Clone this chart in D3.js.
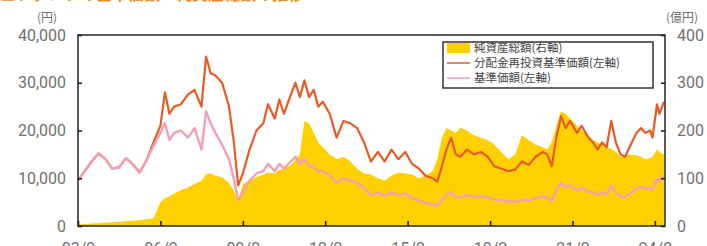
<!DOCTYPE html>
<html><head><meta charset="utf-8">
<script src="https://cdn.jsdelivr.net/npm/d3@7"></script>
<style>body{margin:0;background:#fff}svg{display:block}</style>
</head><body>
<svg id="c" width="707" height="246"></svg>
<script>
const dates = ["2003-02","2003-05","2003-08","2003-11","2004-02","2004-05","2004-08","2004-11","2005-02","2005-05","2005-08","2005-11",
"2006-02","2006-04","2006-06","2006-08","2006-11","2007-02","2007-05","2007-08","2007-10","2007-12","2008-02","2008-05","2008-08","2008-10","2008-12",
"2009-02","2009-05","2009-08","2009-11","2010-01","2010-04","2010-06","2010-08","2010-11","2011-01","2011-03","2011-05","2011-07","2011-09","2011-11",
"2012-01","2012-04","2012-07","2012-10","2013-01","2013-04","2013-07","2013-10","2014-01","2014-04","2014-07","2014-10","2015-01","2015-04","2015-07","2015-10",
"2016-01","2016-03","2016-05","2016-07","2016-09","2016-11","2017-01","2017-04","2017-07","2017-10","2018-01","2018-04","2018-07","2018-10",
"2019-01","2019-04","2019-07","2019-10","2020-01","2020-03","2020-05","2020-07","2020-09","2020-11","2021-01","2021-04","2021-06","2021-09","2021-11",
"2022-01","2022-03","2022-05","2022-07","2022-09","2022-11","2023-01","2023-03","2023-06","2023-08","2023-10","2023-12","2024-01","2024-03","2024-04","2024-06"];
// 分配金再投資基準価額 (円, 左軸)
const reinvestNav = [9500,11500,13500,15200,14000,12000,12300,14200,12900,11200,13800,17500,
21000,28000,23500,25000,25500,27500,28500,25000,35500,32000,31500,30000,25000,18000,8500,
11000,16000,20000,21500,25500,22500,26500,23500,27500,30000,27000,30500,27000,28500,25000,
26000,23500,18500,22000,21500,20500,17500,13500,15500,13500,16000,14000,15500,13000,12000,10500,
10000,9300,12500,16000,18500,15000,14500,16000,15000,15500,14500,12500,12000,11500,
11800,13500,12800,14500,15500,15000,12500,18500,23000,20500,22000,19500,21000,18500,17500,
16000,17500,16500,22000,17500,15000,14500,16500,19500,20500,19500,20000,18500,25500,23500,26000];
// 基準価額 (円, 左軸)
const nav = [9500,11500,13500,15200,14000,12000,12300,14200,12900,11200,13800,16800,
19500,21500,18000,19500,20000,18500,20500,16000,24000,21500,19500,17000,14000,10000,5500,
7000,9500,11000,11500,13000,11500,13000,12000,13500,14500,13000,14000,12500,12500,11500,
11500,10500,9000,10000,9500,9000,8000,6500,7000,6300,7000,6400,6800,5800,5400,4800,
4500,4300,5500,6500,7000,6000,6000,6500,6000,6200,6000,5500,5400,5200,
5000,5500,5300,5800,6200,6000,5200,7500,9000,8000,8500,7500,8000,7200,7000,
6500,7000,6600,8500,7000,6200,6000,6800,7800,8200,7800,8000,7500,10000,9300,10500];
// 純資産総額 (億円, 右軸)
const netAssets = [3,4,5,6,7,8,9,10,11,12,14,16,
50,58,62,68,75,80,88,95,108,110,105,102,90,75,55,
88,96,102,108,112,110,118,120,128,138,150,220,215,195,175,
165,150,140,145,135,120,110,108,100,95,105,112,110,108,100,105,
115,140,185,205,200,195,205,200,190,185,180,170,155,140,
150,190,180,170,165,160,175,210,240,235,225,210,200,190,180,
175,170,165,162,155,145,148,150,148,145,140,142,145,160,155,150];
const leftTicks = [0,10000,20000,30000,40000];
const rightTicks = [0,100,200,300,400];
const xTickDates = ["2003-02","2006-02","2009-02","2012-02","2015-02","2018-02","2021-02","2024-02"];
const xTickLabels = ["03/2","06/2","09/2","12/2","15/2","18/2","21/2","24/2"];
const legendLabels = ["純資産総額(右軸)","分配金再投資基準価額(左軸)","基準価額(左軸)"];
const titleText = "■ファンドの基準価額・純資産総額の推移";

const parse = d3.timeParse("%Y-%m");
const svg = d3.select("#c");
const L = 78, R = 665, T = 35, B = 226;
const x = d3.scaleTime().domain([parse("2003-02"), new Date(2024,5,15)]).range([L, R]);
const yL = d3.scaleLinear().domain([0,40000]).range([B, T]);
const yR = d3.scaleLinear().domain([0,400]).range([B, T]);
const rows = dates.map((d,i)=>({t:parse(d), o:reinvestNav[i], p:nav[i], a:netAssets[i]}));

const gray = "#707070";
const numFont = "Roboto, 'Liberation Sans', sans-serif";
const jpFont = "'Noto Sans CJK JP', sans-serif";

// title (cut off at top)
svg.append("text").attr("x", 0).attr("y", 0).attr("font-family", jpFont).attr("font-size", 16)
  .attr("fill", "#f08c1e").attr("font-weight", "bold").text(titleText);

// area
svg.append("path").datum(rows)
  .attr("d", d3.area().x(d=>x(d.t)).y0(B).y1(d=>yR(d.a)))
  .attr("fill", "#ffd000");
// lines
svg.append("path").datum(rows)
  .attr("d", d3.line().x(d=>x(d.t)).y(d=>yL(d.o)))
  .attr("fill","none").attr("stroke","#ea5a24").attr("stroke-width",2.2).attr("stroke-linejoin","round");
svg.append("path").datum(rows)
  .attr("d", d3.line().x(d=>x(d.t)).y(d=>yL(d.p)))
  .attr("fill","none").attr("stroke","#f3a0b4").attr("stroke-width",2.4).attr("stroke-linejoin","round");

// frame
svg.append("rect").attr("x",L).attr("y",T).attr("width",R-L).attr("height",B-T)
  .attr("fill","none").attr("stroke","#333").attr("stroke-width",1.6);

// axes
const gl = svg.append("g").attr("transform",`translate(${L},0)`)
  .call(d3.axisLeft(yL).tickValues(leftTicks).tickSize(-4).tickPadding(12).tickFormat(d3.format(",")));
const gr = svg.append("g").attr("transform",`translate(${R},0)`)
  .call(d3.axisRight(yR).tickValues(rightTicks).tickSize(-4).tickPadding(12));
const gb = svg.append("g").attr("transform",`translate(0,${B})`)
  .call(d3.axisBottom(x).tickValues(xTickDates.map(parse)).tickSize(-5).tickPadding(14)
    .tickFormat((d,i)=>xTickLabels[i]));
[gl,gr,gb].forEach(g=>{
  g.select(".domain").remove();
  g.selectAll(".tick line").attr("stroke","#222").attr("stroke-width",1.6);
  g.selectAll("text").attr("fill",gray).attr("font-family",numFont).attr("font-size",16);
});
gb.selectAll("text").attr("dy","0.9em");

svg.append("text").attr("x",47).attr("y",22).attr("text-anchor","middle")
  .attr("font-family",jpFont).attr("font-size",12).attr("fill",gray).text("(円)");
svg.append("text").attr("x",682).attr("y",22).attr("text-anchor","middle")
  .attr("font-family",jpFont).attr("font-size",12).attr("fill",gray).text("(億円)");

// legend
const lg = svg.append("g");
lg.append("rect").attr("x",443).attr("y",42).attr("width",210).attr("height",46)
  .attr("fill","#fff").attr("stroke","#333").attr("stroke-width",1.5);
const ly = [48,63,78];
lg.append("rect").attr("x",447).attr("y",43).attr("width",23).attr("height",10).attr("fill","#ffd000");
lg.append("line").attr("x1",447).attr("x2",470).attr("y1",ly[1]).attr("y2",ly[1]).attr("stroke","#ea5a24").attr("stroke-width",1.5);
lg.append("line").attr("x1",447).attr("x2",470).attr("y1",ly[2]).attr("y2",ly[2]).attr("stroke","#f3a0b4").attr("stroke-width",1.5);
legendLabels.forEach((t,i)=>{
  lg.append("text").attr("x",474).attr("y",ly[i]+4).attr("font-family",jpFont).attr("font-size",11.5)
    .attr("fill","#444").text(t);
});
</script>
</body></html>
